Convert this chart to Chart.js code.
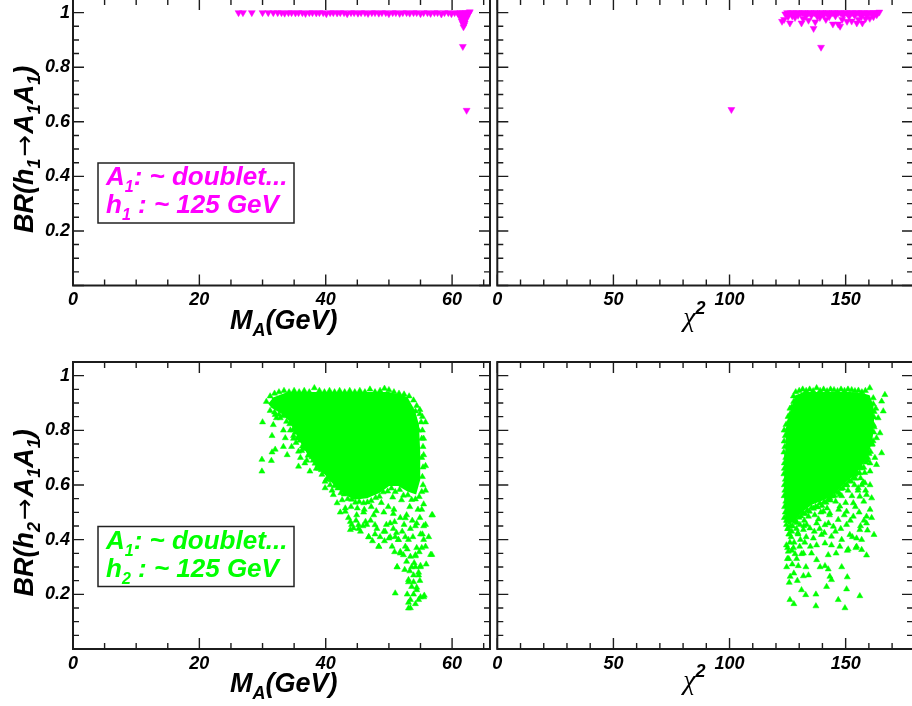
<!DOCTYPE html>
<html>
<head>
<meta charset="utf-8">
<script src="https://cdn.jsdelivr.net/npm/chart.js@4.4.1/dist/chart.umd.min.js"></script>
<style>
  html, body { margin: 0; padding: 0; background: #fff; width: 912px; height: 706px; overflow: hidden; position: relative; }
  canvas { position: absolute; left: 0; top: -20px; }
</style>
</head>
<body>
<canvas id="pTL" width="930" height="740"></canvas>
<canvas id="pTR" width="930" height="740"></canvas>
<canvas id="pBL" width="930" height="740"></canvas>
<canvas id="pBR" width="930" height="740"></canvas>
<script>
// ---- axis ticks ----
const brMajor = [0, 0.2, 0.4, 0.6, 0.8, 1];
const brMinor = [0.05, 0.1, 0.15, 0.25, 0.3, 0.35, 0.45, 0.5, 0.55, 0.65, 0.7, 0.75, 0.85, 0.9, 0.95];
const brLabelled = [0.2, 0.4, 0.6, 0.8, 1];
const brLabels = ['0.2', '0.4', '0.6', '0.8', '1'];
const massMajor = [0, 20, 40, 60];
const massMinor = [5, 10, 15, 25, 30, 35, 45, 50, 55, 65];
const massLabels = ['0', '20', '40', '60'];
const chiMajor = [0, 50, 100, 150];
const chiMinor = [10, 20, 30, 40, 60, 70, 80, 90, 110, 120, 130, 140, 160, 170];
const chiLabels = ['0', '50', '100', '150'];

// ---- text ----
const legendLine1 = ': ~ doublet...';
const legendLine2 = ' : ~ 125 GeV';

// ---- BR(h1 -> A1 A1) vs M_A ----
const h1ByMass = [
  [26.2,1.0],[26.9,1.0],[28.3,1.0],[30.0,1.0],[30.9,1.0],[31.7,1.0],[32.4,1.0],
  [33.0,1.0],[33.5,0.998],[34.1,1.0],[34.6,1.0],[35.2,0.999],[35.7,1.0],[36.3,1.0],[36.8,0.997],
  [37.4,1.0],[37.9,1.0],[38.5,0.999],[39.0,1.0],[39.6,1.0],[40.1,0.996],[40.7,1.0],[41.2,1.0],
  [41.8,0.999],[42.3,1.0],[42.9,1.0],[43.4,0.996],[44.0,1.0],[44.5,1.0],[45.1,0.998],[45.6,1.0],
  [46.2,1.0],[46.7,0.997],[47.3,1.0],[47.8,1.0],[48.4,0.998],[48.9,1.0],[49.5,1.0],[50.0,0.996],
  [50.6,1.0],[51.1,1.0],[51.7,0.997],[52.2,1.0],[52.8,1.0],[53.3,0.998],[53.9,1.0],[54.4,1.0],
  [55.0,0.996],[55.5,1.0],[56.1,1.0],[56.6,0.997],[57.2,1.0],[57.7,1.0],[58.3,0.995],[58.8,1.0],
  [59.4,1.0],[59.9,0.996],[60.4,1.0],[60.9,0.998],[61.3,1.0],[61.6,1.0],[62.1,1.0],[62.5,1.0],
  [61.0,0.995],[61.2,0.99],[61.4,0.98],[61.5,0.97],[61.7,0.96],[61.8,0.948],[61.9,0.955],
  [62.0,0.962],[62.1,0.972],[62.3,0.98],[62.4,0.99],[62.6,0.995],[62.7,1.0],[62.8,1.003],
  [61.6,0.99],[62.2,0.99],[61.9,0.975],[62.0,0.985],
  [61.7,0.876],[62.3,0.642]
];

// ---- BR(h1 -> A1 A1) vs chi^2 ----
const h1ByChi2 = [
  [100.8,0.645],[139.4,0.873],[136.2,0.942],
  [122.6,0.968],[123.5,0.975],[126.0,0.962],[128.2,0.982],[131.0,0.962],[131.7,0.978],[134.0,0.972],
  [136.9,0.966],[138.9,0.982],[141.5,0.975],[144.5,0.958],[146.8,0.958],[147.6,0.95],[148.5,0.975],
  [150.6,0.968],[152.6,0.969],[154.8,0.962],[155.6,0.975],[157.2,0.962],[158.6,0.978],[160.4,0.979],[162.0,0.985],
  [125.2,0.985],[127.0,0.988],[129.5,0.99],[132.8,0.986],[135.2,0.99],[137.8,0.986],[140.5,0.99],
  [142.9,0.985],[145.6,0.988],[149.0,0.99],[151.5,0.986],[153.9,0.99],[156.8,0.985],[159.2,0.99],
  [161.8,0.99],[163.4,0.992],
  [124.0,0.995],[124.8,1.0],[125.6,0.998],[126.4,1.0],[127.3,1.0],[128.1,0.997],[129.0,1.0],[129.8,1.0],
  [130.7,0.998],[131.5,1.0],[132.4,1.0],[133.2,0.996],[134.1,1.0],[134.9,1.0],[135.8,0.998],[136.6,1.0],
  [137.5,1.0],[138.3,0.997],[139.2,1.0],[140.0,1.0],[140.9,0.998],[141.7,1.0],[142.6,1.0],[143.4,0.996],
  [144.3,1.0],[145.1,1.0],[146.0,0.998],[146.8,1.0],[147.7,1.0],[148.5,0.997],[149.4,1.0],[150.2,1.0],
  [151.1,0.998],[151.9,1.0],[152.8,1.0],[153.6,0.996],[154.5,1.0],[155.3,1.0],[156.2,0.998],[157.0,1.0],
  [157.9,1.0],[158.7,0.997],[159.6,1.0],[160.4,1.0],[161.3,0.998],[162.1,1.0],[163.0,1.0],[163.8,1.0],[164.5,1.002]
];

// ---- BR(h2 -> A1 A1) vs M_A ----
// solid core of the point cloud (outline), drawn as a filled area
const h2ByMassBulk = [
  [31.5,0.915],[34.0,0.937],[38.0,0.937],[42.0,0.937],[46.0,0.937],[50.0,0.937],[52.8,0.92],
  [54.0,0.87],[54.6,0.82],[54.8,0.72],[54.8,0.62],[54.2,0.57],[53.0,0.58],[51.5,0.60],[50.0,0.60],
  [48.5,0.575],[46.5,0.555],[44.5,0.55],[43.0,0.57],[41.5,0.60],[40.0,0.64],[38.5,0.675],[37.2,0.715],
  [36.2,0.755],[35.2,0.80],[34.2,0.84],[33.0,0.865],[31.5,0.885],[31.0,0.90]
];
const h2ByMass = [
  // upper rim
  [30.6,0.905],[31.2,0.925],[31.9,0.935],[32.6,0.94],[33.4,0.945],[34.2,0.94],[35.0,0.945],[35.8,0.94],
  [36.6,0.945],[37.4,0.94],[38.2,0.955],[39.0,0.945],[39.8,0.94],[40.6,0.945],[41.4,0.94],[42.2,0.945],
  [43.0,0.94],[43.8,0.945],[44.6,0.94],[45.4,0.945],[46.2,0.94],[47.0,0.95],[47.8,0.94],[48.6,0.945],
  [49.3,0.953],[50.0,0.948],[50.8,0.94],[51.6,0.935],[52.4,0.932],[53.2,0.925],[53.9,0.91],[54.4,0.89],[54.9,0.875],
  // lower-left rim of the core
  [31.2,0.872],[31.9,0.866],[32.6,0.858],[33.2,0.852],[33.8,0.832],[34.3,0.823],[34.8,0.801],[35.2,0.792],
  [35.5,0.771],[35.9,0.763],[36.3,0.742],[36.8,0.733],[37.2,0.708],[37.8,0.702],[38.3,0.679],[38.8,0.674],
  [39.3,0.655],[39.8,0.648],[40.4,0.626],[40.9,0.618],[41.4,0.596],[41.9,0.588],[42.4,0.571],[42.9,0.566],
  [43.5,0.549],[44.1,0.547],[44.7,0.536],[45.3,0.539],[46.0,0.534],[46.6,0.537],[47.2,0.542],[47.9,0.553],
  [48.5,0.558],[49.1,0.574],[49.8,0.577],[50.4,0.588],[51.0,0.575],[51.7,0.583],[52.3,0.562],[53.0,0.563],
  [53.6,0.546],[54.2,0.548],[54.8,0.557],
  [32.2,0.845],[34.9,0.78],[35.3,0.755],[36.2,0.725],[37.0,0.69],[38.5,0.66],[40.1,0.62],[41.0,0.58],
  [42.6,0.545],[45.0,0.515],[47.2,0.52],[48.8,0.535],[50.6,0.555],[52.0,0.545],[53.3,0.52],[54.6,0.51],
  [46.1,0.51],[49.9,0.52],[44.0,0.52],[52.8,0.49],[50.7,0.495],[48.0,0.505],[44.9,0.49],
  // right rim
  [54.9,0.86],[55.1,0.83],[55.3,0.80],[55.2,0.77],[55.4,0.74],[55.2,0.70],[55.4,0.665],[55.3,0.63],
  [55.4,0.60],[55.2,0.575],
  // sparse points
  [30.0,0.83],[29.9,0.693],[29.9,0.65],[31.4,0.689],[31.7,0.82],[31.5,0.78],[32.0,0.857],[32.8,0.845],
  [33.3,0.80],[33.6,0.772],[31.5,0.72],[32.0,0.73],[33.3,0.74],[33.9,0.71],[34.6,0.74],[35.7,0.723],
  [36.0,0.70],[35.7,0.668],[36.7,0.68],[38.0,0.69],[37.5,0.65],[39.4,0.638],[39.9,0.613],[40.7,0.60],
  [39.9,0.589],[41.2,0.564],[41.8,0.534],[43.1,0.515],[34.9,0.77],[34.4,0.80],[36.5,0.735],[38.9,0.66],
  [42.3,0.50],[43.6,0.48],[44.1,0.455],[45.2,0.44],[43.9,0.436],[46.5,0.455],[46.8,0.41],[47.8,0.42],
  [48.4,0.375],[49.2,0.43],[50.0,0.405],[50.7,0.44],[51.5,0.40],[51.8,0.356],[51.0,0.204],[51.3,0.30],
  [52.3,0.344],[52.8,0.32],[53.1,0.245],[53.1,0.17],[53.4,0.15],[53.9,0.20],[54.4,0.225],[54.7,0.18],
  [55.5,0.19],[53.9,0.27],[54.7,0.28],[55.0,0.305],[54.2,0.344],[55.8,0.375],[56.6,0.345],[56.9,0.49],
  [55.8,0.455],[55.3,0.42],[55.5,0.53],[55.8,0.58],[55.5,0.71],[55.8,0.67],[55.5,0.77],[55.8,0.83],
  [55.3,0.85],[54.2,0.87],[54.7,0.80],
  [43.1,0.503],[43.9,0.466],[44.4,0.442],[45.2,0.454],[45.5,0.43],[46.3,0.466],[46.8,0.41],[47.8,0.454],
  [48.4,0.375],[48.6,0.41],[49.4,0.43],[50.2,0.46],[50.5,0.375],[50.2,0.41],[51.3,0.30],[51.5,0.40],
  [51.8,0.35],[52.1,0.43],[52.6,0.479],[53.1,0.40],[53.4,0.338],[53.6,0.30],[53.1,0.253],[53.6,0.228],
  [53.4,0.18],[53.1,0.149],[54.4,0.216],[55.0,0.19],[55.6,0.196],[54.2,0.30],[55.0,0.30],[54.7,0.27],
  [54.2,0.34],[54.4,0.37],[55.2,0.37],[55.5,0.40],[55.0,0.42],[55.5,0.45],[56.8,0.345],[56.8,0.49],
  [55.2,0.51],[54.2,0.45],[53.4,0.44],[52.6,0.41],[51.8,0.48],[50.8,0.51],[49.2,0.50],[47.6,0.49],
  [46.0,0.50],[54.4,0.46],[52.6,0.375],[51.0,0.41],
  [44.8,0.47],[45.9,0.45],[47.1,0.47],[48.1,0.44],[49.6,0.455],[50.9,0.465],[51.2,0.425],[52.4,0.455],
  [53.7,0.47],[54.9,0.48],[53.8,0.41],[52.9,0.365],[54.8,0.355],[53.3,0.285],[54.0,0.315],[52.5,0.29],
  [53.9,0.245],[54.9,0.25],[52.9,0.20],[54.2,0.165],[49.3,0.395],[47.4,0.395],[50.9,0.355],[55.9,0.31],[56.3,0.41]
];

// ---- BR(h2 -> A1 A1) vs chi^2 ----
const h2ByChi2Bulk = [
  [124.2,0.78],[125.6,0.84],[127.3,0.89],[128.6,0.925],[132.0,0.937],[137.0,0.937],[142.0,0.937],
  [147.0,0.937],[152.0,0.937],[157.0,0.933],[160.0,0.925],[161.5,0.89],[161.8,0.84],[161.3,0.78],
  [160.0,0.73],[158.0,0.69],[155.5,0.66],[153.0,0.635],[150.0,0.615],[147.0,0.59],[144.0,0.565],
  [141.0,0.55],[138.0,0.54],[135.0,0.53],[132.0,0.51],[129.5,0.49],[127.5,0.47],[125.5,0.46],
  [124.4,0.48],[124.0,0.55],[123.9,0.65],[124.0,0.72]
];
const h2ByChi2 = [
  // upper rim
  [127.5,0.925],[128.5,0.94],[130.0,0.945],[131.5,0.95],[133.0,0.945],[134.5,0.95],[136.0,0.944],
  [137.5,0.955],[139.0,0.945],[140.5,0.95],[142.0,0.944],[143.5,0.95],[145.0,0.948],[146.5,0.944],
  [148.0,0.95],[149.5,0.945],[151.0,0.95],[152.6,0.948],[154.0,0.944],[155.5,0.946],[157.0,0.94],
  [158.5,0.945],[160.4,0.955],[161.9,0.918],
  // left rim
  [126.0,0.88],[125.2,0.85],[124.3,0.82],[123.5,0.80],[124.0,0.78],[123.8,0.74],[124.2,0.70],
  [123.6,0.66],[124.0,0.62],[123.8,0.58],[124.2,0.54],[124.0,0.50],[124.5,0.47],[125.0,0.44],
  [125.5,0.42],[126.0,0.39],[127.5,0.37],[125.0,0.37],[125.5,0.33],
  [123.5,0.76],[123.4,0.72],[123.6,0.68],[123.4,0.64],[123.6,0.60],[123.5,0.56],[123.7,0.52],[123.6,0.48],
  [124.6,0.80],[125.3,0.83],[126.1,0.86],[126.8,0.885],[127.6,0.905],
  // lower-right rim of the core
  [124.5,0.455],[125.4,0.441],[126.3,0.452],[127.2,0.449],[128.1,0.466],[129.0,0.462],[129.9,0.481],
  [130.8,0.486],[131.7,0.497],[132.6,0.494],[133.5,0.508],[134.4,0.503],[135.3,0.518],[136.2,0.514],
  [137.1,0.521],[138.0,0.519],[138.9,0.533],[139.8,0.524],[140.7,0.538],[141.6,0.536],[142.5,0.548],
  [143.4,0.544],[144.3,0.559],[145.2,0.561],[146.1,0.575],[147.0,0.572],[147.9,0.586],[148.8,0.588],
  [149.7,0.601],[150.6,0.6],[151.5,0.615],[152.4,0.613],[153.3,0.626],[154.2,0.624],[155.1,0.643],
  [156.0,0.644],[156.9,0.662],[157.8,0.664],[158.7,0.683],[159.4,0.691],[160.1,0.714],[160.7,0.722],
  [161.3,0.748],[161.8,0.761],[162.1,0.793],[162.3,0.812],[162.2,0.848],[162.3,0.868],[161.9,0.896],
  [126.8,0.43],[128.8,0.44],[130.3,0.455],[132.2,0.47],[134.0,0.485],[136.7,0.49],[139.3,0.50],
  [142.0,0.515],[145.7,0.54],[148.3,0.56],[151.0,0.58],[153.8,0.60],[156.4,0.625],[158.2,0.645],
  [160.5,0.68],[125.8,0.42],[129.4,0.425],[133.2,0.455],[138.3,0.475],[143.0,0.49],[147.0,0.51],
  [150.0,0.535],[152.7,0.56],[155.3,0.58],[157.6,0.61],
  // right rim and sparse points
  [166.9,0.93],[165.5,0.906],[166.2,0.87],[164.0,0.845],[164.8,0.79],[163.3,0.772],[165.5,0.717],
  [162.6,0.70],[163.3,0.674],[160.5,0.65],[158.3,0.607],[156.1,0.662],[151.8,0.686],[154.0,0.638],
  [155.4,0.589],[150.4,0.60],[147.5,0.564],[145.4,0.60],[143.2,0.552],[149.7,0.65],[146.8,0.644],
  [163.0,0.88],[162.0,0.82],[161.5,0.75],[159.5,0.70],
  [126.0,0.18],[127.7,0.165],[125.7,0.243],[127.7,0.277],[131.8,0.267],[129.6,0.304],[132.9,0.30],
  [131.0,0.216],[132.8,0.198],[137.2,0.20],[137.2,0.157],[141.8,0.228],[141.1,0.304],[142.5,0.292],
  [143.2,0.265],[143.9,0.253],[146.8,0.18],[148.3,0.30],[150.4,0.219],[150.7,0.263],[149.7,0.15],
  [156.1,0.194],[159.0,0.343],[162.2,0.418],[159.4,0.434],[156.4,0.45],[154.4,0.37],[150.7,0.36],
  [142.5,0.344],[137.5,0.326],[135.3,0.35],[131.8,0.35],[124.6,0.30],[124.9,0.33],[125.3,0.357],
  [128.2,0.348],[131.0,0.348],[137.5,0.38],[141.1,0.387],[143.9,0.38],[147.5,0.375],[151.1,0.365],
  [154.7,0.375],[156.9,0.363],[136.1,0.405],[139.6,0.418],[143.9,0.412],[148.3,0.40],[151.8,0.418],
  [154.7,0.405],[156.9,0.40],[156.1,0.436],[159.0,0.46],[159.0,0.485],[160.5,0.51],[161.2,0.552],
  [159.0,0.564],[160.5,0.60],[156.9,0.60],[156.1,0.558],[153.3,0.534],[153.3,0.485],[150.4,0.455],
  [146.8,0.473],[144.7,0.448],[141.1,0.454],[137.5,0.46],[134.6,0.442],[131.8,0.436],[150.4,0.503],
  [147.5,0.522],[143.2,0.497],[140.4,0.503],
  [124.5,0.38],[125.2,0.44],[126.5,0.41],[124.8,0.47],[127.8,0.39],[129.5,0.42],[126.8,0.36],
  [130.5,0.40],[133.0,0.41],[128.5,0.47],[132.0,0.45],
  [127.0,0.31],[128.9,0.33],[130.2,0.375],[132.4,0.39],[134.8,0.375],[136.5,0.43],[138.8,0.44],
  [140.8,0.425],[142.6,0.46],[145.6,0.43],[147.9,0.44],[149.4,0.49],[152.0,0.47],[154.2,0.52],
  [155.8,0.50],[157.8,0.54],[158.6,0.58],[126.1,0.265],[129.2,0.25],[134.0,0.27],[139.0,0.30],
  [145.9,0.35],[152.9,0.41],[157.9,0.47],[161.2,0.48]
];

// ---- drawing ----
const MAJOR = 11, MINOR = 6;
const AXW = 60, AXH = 40, CW = 930, CH = 740, OFF = 20;
const SANS = '"Liberation Sans", Arial, sans-serif';
const bi = s => `italic bold ${s}px ${SANS}`;
const MAGENTA = '#ff00ff', GREEN = '#00ff00';

function drawRuns(ctx, x, y, parts) {
  for (const p of parts) {
    ctx.font = p.f;
    ctx.fillText(p.t, x, y + (p.dy || 0));
    x += ctx.measureText(p.t).width + (p.gap || 0);
  }
}

// frame with inward ticks on all four sides, axis titles and the label box
const decor = {
  id: 'decor',
  afterDatasetsDraw(chart, _args, o) {
    const { ctx, chartArea: a, scales: { x, y } } = chart;
    ctx.save();
    ctx.strokeStyle = '#1c1c1c';
    ctx.lineWidth = 1.4;
    ctx.beginPath();
    const xt = o.xMajor.map(v => [v, MAJOR]).concat(o.xMinor.map(v => [v, MINOR]));
    for (const [v, len] of xt) {
      const px = x.getPixelForValue(v);
      ctx.moveTo(px, a.bottom); ctx.lineTo(px, a.bottom - len);
      ctx.moveTo(px, a.top); ctx.lineTo(px, a.top + len);
    }
    const yt = brMajor.map(v => [v, MAJOR]).concat(brMinor.map(v => [v, MINOR]));
    for (const [v, len] of yt) {
      const py = y.getPixelForValue(v);
      ctx.moveTo(a.left, py); ctx.lineTo(a.left + len, py);
      ctx.moveTo(a.right, py); ctx.lineTo(a.right - len, py);
    }
    ctx.stroke();
    ctx.lineWidth = 2;
    ctx.strokeRect(a.left, a.top, a.right - a.left, a.bottom - a.top);
    ctx.restore();
  },
  afterDraw(chart, _args, o) {
    const { ctx, chartArea: a } = chart;
    ctx.save();
    ctx.textAlign = 'left';
    ctx.textBaseline = 'alphabetic';
    ctx.fillStyle = '#000';
    if (o.xTitle === 'mass') {
      drawRuns(ctx, a.left + 157, a.bottom + 43, [
        { t: 'M', f: bi(27) }, { t: 'A', f: bi(18), dy: 7 }, { t: '(GeV)', f: bi(27) }
      ]);
    } else {
      drawRuns(ctx, a.left + 186, a.bottom + 40, [
        { t: 'χ', f: 'italic 28px "Liberation Serif", serif' }, { t: '2', f: bi(18), dy: -12 }
      ]);
    }
    if (o.higgs) {
      ctx.save();
      ctx.translate(a.left - 40, a.bottom - 52.5);
      ctx.rotate(-Math.PI / 2);
      drawRuns(ctx, 0, 0, [
        { t: 'BR(h', f: bi(27) }, { t: o.higgs, f: bi(18), dy: 7, gap: 2 },
        { t: '→', f: '26px "DejaVu Sans", sans-serif', gap: 1 },
        { t: 'A', f: bi(27) }, { t: '1', f: bi(18), dy: 7 },
        { t: 'A', f: bi(27) }, { t: '1', f: bi(18), dy: 7 },
        { t: ')', f: bi(27) }
      ]);
      ctx.restore();
      const bx = a.left + 25, by = a.bottom - 122.5, bw = 196, bh = 60;
      ctx.fillStyle = '#fff';
      ctx.fillRect(bx, by, bw, bh);
      ctx.strokeStyle = '#222';
      ctx.lineWidth = 1.5;
      ctx.strokeRect(bx, by, bw, bh);
      ctx.fillStyle = o.color;
      drawRuns(ctx, bx + 8, by + 22, [
        { t: 'A', f: bi(26) }, { t: '1', f: bi(16), dy: 7 }, { t: legendLine1, f: bi(26) }
      ]);
      drawRuns(ctx, bx + 8, by + 50, [
        { t: 'h', f: bi(26) }, { t: o.higgs, f: bi(16), dy: 7 }, { t: legendLine2, f: bi(26) }
      ]);
    }
    ctx.restore();
  }
};

const pts = arr => arr.map(([x, y]) => ({ x, y }));

function panel(id, box, xAxis, datasets, deco) {
  new Chart(document.getElementById(id), {
    type: 'scatter',
    data: { datasets },
    options: {
      responsive: false,
      animation: false,
      events: [],
      layout: {
        padding: {
          left: box.l - AXW,
          right: CW - box.r,
          top: box.t + OFF,
          bottom: CH - (box.b + OFF) - AXH
        }
      },
      plugins: { legend: { display: false }, tooltip: { enabled: false }, decor: deco },
      scales: {
        x: {
          type: 'linear', min: 0, max: xAxis.max,
          afterBuildTicks: s => { s.ticks = xAxis.major.map(v => ({ value: v })); },
          afterFit: s => { s.height = AXH; },
          grid: { display: false, drawTicks: false, tickLength: 0 },
          border: { display: false },
          ticks: {
            padding: 4, color: '#000', maxRotation: 0, autoSkip: false,
            font: { family: SANS, size: 18, style: 'italic', weight: 'bold' },
            callback: v => xAxis.labels[xAxis.major.indexOf(v)]
          }
        },
        y: {
          type: 'linear', min: 0, max: 1.05,
          afterBuildTicks: s => { s.ticks = brLabelled.map(v => ({ value: v })); },
          afterFit: s => { s.width = AXW; },
          grid: { display: false, drawTicks: false, tickLength: 0 },
          border: { display: false },
          ticks: {
            display: deco.higgs !== null, padding: 3, color: '#000', autoSkip: false,
            font: { family: SANS, size: 18, style: 'italic', weight: 'bold' },
            callback: v => brLabels[brLabelled.indexOf(v)]
          }
        }
      }
    },
    plugins: [decor]
  });
}

function markers(arr, color, radius, rotation) {
  return {
    data: pts(arr), backgroundColor: color, borderColor: color, borderWidth: 0.5,
    pointStyle: 'triangle', pointRadius: radius, pointRotation: rotation, showLine: false
  };
}
function bulk(arr, color) {
  return {
    data: pts(arr), backgroundColor: color, borderColor: color, borderWidth: 2,
    showLine: true, fill: 'shape', pointRadius: 0, tension: 0
  };
}

const massAxis = { max: 66, major: massMajor, labels: massLabels };
const chiAxis = { max: 179, major: chiMajor, labels: chiLabels };

panel('pTL', { l: 73, r: 490, t: -1, b: 285.5 }, massAxis,
  [markers(h1ByMass, MAGENTA, 4, 180)],
  { xTitle: 'mass', higgs: '1', color: MAGENTA, xMajor: massMajor, xMinor: massMinor });
panel('pTR', { l: 497.3, r: 913, t: -1, b: 285.5 }, chiAxis,
  [markers(h1ByChi2, MAGENTA, 4, 180)],
  { xTitle: 'chi', higgs: null, color: MAGENTA, xMajor: chiMajor, xMinor: chiMinor });
panel('pBL', { l: 73, r: 490, t: 362, b: 649 }, massAxis,
  [bulk(h2ByMassBulk, GREEN), markers(h2ByMass, GREEN, 3.5, 0)],
  { xTitle: 'mass', higgs: '2', color: GREEN, xMajor: massMajor, xMinor: massMinor });
panel('pBR', { l: 497.3, r: 913, t: 362, b: 649 }, chiAxis,
  [bulk(h2ByChi2Bulk, GREEN), markers(h2ByChi2, GREEN, 3.5, 0)],
  { xTitle: 'chi', higgs: null, color: GREEN, xMajor: chiMajor, xMinor: chiMinor });
</script>
</body>
</html>
